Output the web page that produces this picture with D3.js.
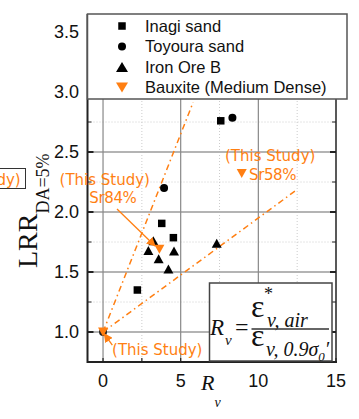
<!DOCTYPE html>
<html><head><meta charset="utf-8">
<script src="https://cdn.jsdelivr.net/npm/d3@7"></script>
<style>body{margin:0;background:#fff}svg{display:block}</style>
</head><body>
<script>
// ---- data ----
const inagiX = [2.21, 3.78, 4.53, 7.58];
const inagiY = [1.35, 1.905, 1.786, 2.76];
const toyouraX = [3.93, 8.33];
const toyouraY = [2.20, 2.786];
const ironX = [3.24, 2.92, 4.57, 3.58, 4.21, 7.32];
const ironY = [1.76, 1.68, 1.675, 1.61, 1.525, 1.74];
const bauxiteX = [0, 3.63, 8.93];
const bauxiteY = [1.0, 1.69, 2.32];
const legendLabels = ["Inagi sand", "Toyoura sand", "Iron Ore B", "Bauxite (Medium Dense)"];
const xTicks = [0, 5, 10, 15];
const yTicks = [1.0, 1.5, 2.0, 2.5, 3.0, 3.5];
const xMinor = [2.5, 7.5, 12.5];
const yMinor = [1.25, 1.75, 2.25, 2.75];
// fit lines: y = 1 + slope * x, up to xEnd
const lineSlopes = [0.33, 0.095];
const lineEnds = [5.8, 12.5];

const W = 359, H = 419;
const ORANGE = "#ff7f12";
const svg = d3.select("body").append("svg").attr("width", W).attr("height", H);
const x = d3.scaleLinear().domain([-1, 15]).range([87.5, 336]);
const y = d3.scaleLinear().domain([0.75, 3.65]).range([362, 14]);
const L = 87.5, R = 336, T = 14, B = 362;

// minor grid (dotted)
svg.append("g").selectAll("line").data(xMinor).join("line")
  .attr("x1", d => x(d)).attr("x2", d => x(d)).attr("y1", T).attr("y2", B)
  .attr("stroke", "#ccc").attr("stroke-width", 1).attr("stroke-dasharray", "1,2");
svg.append("g").selectAll("line").data(yMinor).join("line")
  .attr("y1", d => y(d)).attr("y2", d => y(d)).attr("x1", L).attr("x2", R)
  .attr("stroke", "#ccc").attr("stroke-width", 1).attr("stroke-dasharray", "1,2");
// major grid
svg.append("g").selectAll("line").data(yTicks).join("line")
  .attr("y1", d => y(d)).attr("y2", d => y(d)).attr("x1", L).attr("x2", R)
  .attr("stroke", "#b4b4b4").attr("stroke-width", 2);
svg.append("g").selectAll("line").data(xTicks.filter(d => d < 15)).join("line")
  .attr("x1", d => x(d)).attr("x2", d => x(d)).attr("y1", T).attr("y2", B)
  .attr("stroke", "#888").attr("stroke-width", 1.2);

// fit lines (dash-dot)
lineSlopes.forEach((s, i) => {
  svg.append("line")
    .attr("x1", x(0)).attr("y1", y(1)).attr("x2", x(lineEnds[i])).attr("y2", y(1 + s * lineEnds[i]))
    .attr("stroke", ORANGE).attr("stroke-width", 1.5).attr("stroke-dasharray", "6,3.5,1.5,3.5");
});

// axes frame
const frame = svg.append("g").attr("stroke", "#222");
frame.append("line").attr("x1", L).attr("x2", L).attr("y1", T).attr("y2", B + 1).attr("stroke-width", 2);
frame.append("line").attr("x1", L).attr("x2", R + 1).attr("y1", B).attr("y2", B).attr("stroke-width", 2);
frame.append("line").attr("x1", R).attr("x2", R).attr("y1", T).attr("y2", B).attr("stroke-width", 1.5);
// ticks (inward)
yTicks.forEach(d => {
  frame.append("line").attr("x1", L).attr("x2", L + 6).attr("y1", y(d)).attr("y2", y(d)).attr("stroke-width", 2);
  frame.append("line").attr("x1", R - 6).attr("x2", R).attr("y1", y(d)).attr("y2", y(d)).attr("stroke-width", 2);
});
yMinor.forEach(d => {
  frame.append("line").attr("x1", L).attr("x2", L + 4).attr("y1", y(d)).attr("y2", y(d)).attr("stroke-width", 1);
  frame.append("line").attr("x1", R - 4).attr("x2", R).attr("y1", y(d)).attr("y2", y(d)).attr("stroke-width", 1);
});
xTicks.concat(xMinor).forEach(d => {
  frame.append("line").attr("x1", x(d)).attr("x2", x(d)).attr("y1", B).attr("y2", B - 4).attr("stroke-width", 1.2);
});

// tick labels
svg.append("g").selectAll("text").data(yTicks).join("text")
  .attr("x", 79).attr("y", d => y(d)).attr("dy", "0.36em").attr("text-anchor", "end")
  .attr("font-family", "Liberation Sans, Arial, sans-serif").attr("font-size", 18).attr("fill", "#111")
  .text(d => d.toFixed(1));
svg.append("g").selectAll("text").data(xTicks).join("text")
  .attr("x", d => x(d)).attr("y", 387).attr("text-anchor", "middle")
  .attr("font-family", "Liberation Sans, Arial, sans-serif").attr("font-size", 18).attr("fill", "#111")
  .text(d => d);

// markers
const sq = 7.5, cr = 4, tw = 10, th = 9;
const upTri = `M0,${-th/2}L${tw/2},${th/2}L${-tw/2},${th/2}Z`;
const dnTri = `M0,${th/2}L${tw/2},${-th/2}L${-tw/2},${-th/2}Z`;
const pts = (xs, ys) => xs.map((v, i) => [v, ys[i]]);
// dark backing at origin
svg.append("circle").attr("cx", x(bauxiteX[0])).attr("cy", y(bauxiteY[0])).attr("r", 4).attr("fill", "#222");
svg.append("g").selectAll("rect").data(pts(inagiX, inagiY)).join("rect")
  .attr("x", d => x(d[0]) - sq/2).attr("y", d => y(d[1]) - sq/2).attr("width", sq).attr("height", sq).attr("fill", "#000");
svg.append("g").selectAll("circle").data(pts(toyouraX, toyouraY)).join("circle")
  .attr("cx", d => x(d[0])).attr("cy", d => y(d[1])).attr("r", cr).attr("fill", "#000");
svg.append("g").selectAll("path").data(pts(ironX, ironY)).join("path")
  .attr("d", upTri).attr("transform", d => `translate(${x(d[0])},${y(d[1])})`).attr("fill", "#000");
svg.append("g").selectAll("path").data(pts(bauxiteX, bauxiteY)).join("path")
  .attr("d", dnTri).attr("transform", d => `translate(${x(d[0])},${y(d[1])})`).attr("fill", ORANGE);

// clipped boxed label at left (box first, text on top)
svg.append("rect").attr("x", -80).attr("y", 168.5).attr("width", 105.5).attr("height", 20)
  .attr("fill", "#fff").attr("stroke", "#333").attr("stroke-width", 1);
// annotations (data coords)
const annFont = "DejaVu Sans, sans-serif";
const ann = svg.append("g").attr("font-family", annFont).attr("font-size", 15).attr("fill", ORANGE);
ann.append("text").attr("x", x(-5.3)).attr("y", y(2.225)).attr("text-anchor", "end").text("(This Study)");
ann.append("text").attr("x", x(-2.8)).attr("y", y(2.225)).text("(This Study)");
ann.append("text").attr("x", x(-0.88)).attr("y", y(2.075)).attr("font-size", 15).attr("letter-spacing", -0.4).text("Sr84%");
ann.append("text").attr("x", x(7.85)).attr("y", y(2.425)).text("(This Study)");
ann.append("text").attr("x", x(9.4)).attr("y", y(2.267)).attr("font-size", 15).attr("letter-spacing", -0.4).text("Sr58%");
ann.append("text").attr("x", x(0.58)).attr("y", y(0.808)).text("(This Study)");

// arrows
const defs = svg.append("defs");
defs.append("marker").attr("id", "ah").attr("viewBox", "0 0 10 10").attr("refX", 9).attr("refY", 5)
  .attr("markerWidth", 7).attr("markerHeight", 7).attr("orient", "auto")
  .append("path").attr("d", "M0,0L10,5L0,10Z").attr("fill", ORANGE);
const arrows = [[0.90, 2.025, 3.35, 1.717], [0.60, 0.89, 0.08, 0.985]];
svg.append("g").selectAll("line").data(arrows).join("line")
  .attr("x1", d => x(d[0])).attr("y1", d => y(d[1])).attr("x2", d => x(d[2])).attr("y2", d => y(d[3]))
  .attr("stroke", ORANGE).attr("stroke-width", 1.3).attr("marker-end", "url(#ah)");

// legend
const lg = svg.append("g");
lg.append("rect").attr("x", 87.5).attr("y", 14).attr("width", 259.5).attr("height", 85)
  .attr("fill", "#fff").attr("stroke", "#555").attr("stroke-width", 1.5);
const legRowY = [26, 46.5, 67, 87.5];
const lx = 122;
lg.append("rect").attr("x", lx - sq/2).attr("y", legRowY[0] - sq/2).attr("width", sq).attr("height", sq).attr("fill", "#000");
lg.append("circle").attr("cx", lx).attr("cy", legRowY[1]).attr("r", cr).attr("fill", "#000");
lg.append("path").attr("d", `M0,-5L6,5L-6,5Z`).attr("transform", `translate(${lx},${legRowY[2]})`).attr("fill", "#000");
lg.append("path").attr("d", `M0,5L6,-5L-6,-5Z`).attr("transform", `translate(${lx},${legRowY[3]})`).attr("fill", ORANGE);
lg.selectAll("text").data(legendLabels).join("text")
  .attr("x", 145).attr("y", (d, i) => legRowY[i]).attr("dy", "0.36em")
  .attr("font-family", "Liberation Sans, Arial, sans-serif").attr("font-size", 16.5).attr("fill", "#111")
  .text(d => d);

// y-axis label
const serif = "Liberation Serif, 'Times New Roman', serif";
const yl = svg.append("text").attr("transform", "translate(37,268) rotate(-90)")
  .attr("font-family", serif).attr("fill", "#111");
yl.append("tspan").attr("font-size", 28).text("LRR");
yl.append("tspan").attr("font-size", 18).attr("dy", 12).text("DA=5%");

// x-axis label
const xl = svg.append("text").attr("x", 201).attr("y", 390).attr("font-family", serif).attr("font-style", "italic").attr("fill", "#111");
xl.append("tspan").attr("font-size", 22).text("R");
xl.append("tspan").attr("font-size", 14).attr("dx", 0).attr("dy", 17).text("v");

// formula box
const fb = svg.append("g").attr("font-family", serif).attr("fill", "#111");
fb.append("rect").attr("x", 209.5).attr("y", 283).attr("width", 122.5).attr("height", 78)
  .attr("fill", "#fff").attr("stroke", "#444").attr("stroke-width", 1.5);
fb.append("text").attr("x", 210).attr("y", 335).attr("font-size", 23).attr("font-style", "italic").text("R");
fb.append("text").attr("x", 225).attr("y", 345).attr("font-size", 15).attr("font-style", "italic").text("v");
fb.append("text").attr("x", 235).attr("y", 335).attr("font-size", 24).text("=");
fb.append("text").attr("x", 251).attr("y", 316.5).attr("font-size", 32).text("ε");
fb.append("text").attr("x", 264).attr("y", 300).attr("font-size", 18).text("*");
fb.append("text").attr("x", 267).attr("y", 326.5).attr("font-size", 20).attr("font-style", "italic").text("v, air");
fb.append("line").attr("x1", 251.5).attr("x2", 329).attr("y1", 329).attr("y2", 329).attr("stroke", "#333").attr("stroke-width", 1.5);
fb.append("text").attr("x", 251).attr("y", 345.5).attr("font-size", 32).text("ε");
const bt = fb.append("text").attr("x", 266).attr("y", 356).attr("font-size", 20).attr("font-style", "italic");
bt.append("tspan").text("v, 0.9σ");
bt.append("tspan").attr("font-size", 13).attr("dy", 5).text("0");
bt.append("tspan").attr("dy", -5).text("′");
</script>
</body></html>
